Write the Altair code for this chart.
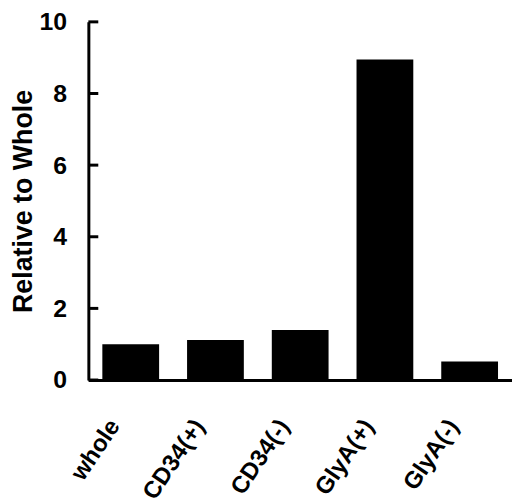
import altair as alt
import pandas as pd

categories = ["whole", "CD34(+)", "CD34(-)", "GlyA(+)", "GlyA(-)"]
values = [1.0, 1.12, 1.4, 8.95, 0.52]
y_ticks = [0, 2, 4, 6, 8, 10]

df = pd.DataFrame({"cat": categories, "val": values})
tdf = pd.DataFrame({"t": y_ticks})

FONT = "Liberation Sans"

yscale = alt.Scale(domain=[0, 10], nice=False, zero=True)

bars = alt.Chart(df).mark_bar(color="black").encode(
    x=alt.X("cat:N", sort=categories,
            scale=alt.Scale(paddingInner=0.33, paddingOuter=0.165),
            axis=alt.Axis(title=None, labelAngle=-56, labelAlign="right",
                          labelBaseline="middle", labelPadding=42, labelOffset=-16,
                          labelFont=FONT, labelFontSize=24, labelFontWeight="bold",
                          labelColor="black", ticks=False, domainColor="black",
                          domainWidth=3, grid=False)),
    y=alt.Y("val:Q", scale=yscale,
            axis=alt.Axis(title="Relative to Whole", values=y_ticks, ticks=False,
                          labelFont=FONT, labelFontSize=25, labelFontWeight="bold",
                          labelColor="black", labelPadding=22,
                          titleFont=FONT, titleFontSize=27, titleFontWeight="bold",
                          titleColor="black", titleX=-78, titleBaseline="top",
                          domainColor="black", domainWidth=3, grid=False)),
)

ticks = alt.Chart(tdf).mark_rule(color="black", strokeWidth=3).encode(
    x=alt.value(0), x2=alt.value(10),
    y=alt.Y("t:Q", scale=yscale),
)

chart = alt.layer(bars, ticks).properties(
    width=427, height=361,
    autosize=alt.AutoSizeParams(type="none"),
    padding={"left": 81, "top": 12, "right": 0, "bottom": 125},
    background="white",
).configure_view(stroke=None)

chart.save("out.html", embed_options={"renderer": "svg", "actions": False})
